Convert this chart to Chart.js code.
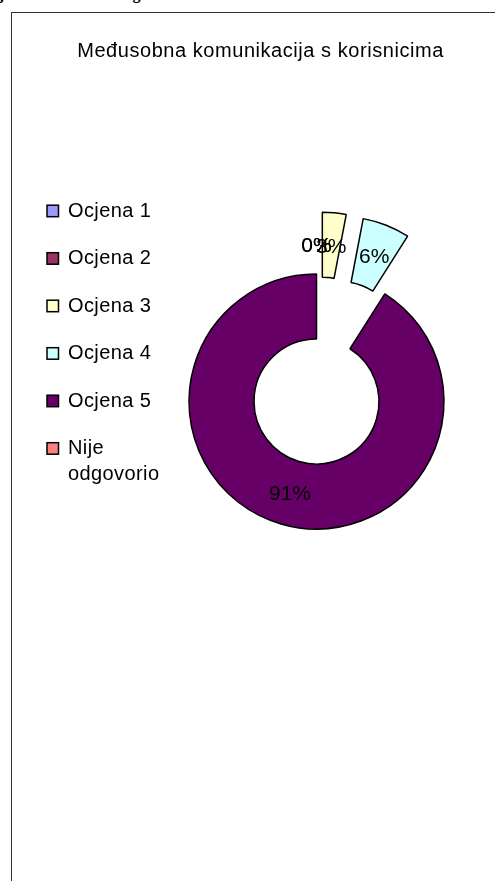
<!DOCTYPE html>
<html>
<head>
<meta charset="utf-8">
<script src="https://cdn.jsdelivr.net/npm/chart.js@4"></script>
<style>
  html, body { margin: 0; padding: 0; background: #ffffff; width: 495px; height: 881px; overflow: hidden; }
  #cut { position: absolute; left: -1px; top: -14.5px; font: bold 16px "Liberation Serif", "Times New Roman", serif; line-height: 16px; letter-spacing: 1.1px; color: #000; white-space: nowrap; }
  #frame { position: absolute; left: 11px; top: 12px; width: 520px; height: 900px; border-left: 1.5px solid #333; border-top: 1.5px solid #333; box-sizing: border-box; }
  #c { position: absolute; left: 0; top: 0; }
</style>
</head>
<body>
<div id="cut">ja korisnika usluga</div>
<div id="frame"></div>
<canvas id="c" width="495" height="881"></canvas>
<script>
// ---- data ----
const chartTitle = "Međusobna komunikacija s korisnicima";
const categories = ["Ocjena 1", "Ocjena 2", "Ocjena 3", "Ocjena 4", "Ocjena 5", "Nije odgovorio"];
const values = [0, 0, 3, 6, 91, 0];
const sliceColors = ["#9999FF", "#993366", "#FFFFCC", "#CCFFFF", "#660066", "#FF8080"];
const exploded = [true, true, true, true, false, false];
const showLabel = [true, true, true, true, true, false];

const FONT = '"Liberation Sans", Arial, sans-serif';
const EXPLODE_DIST = 62;

const explodePlugin = {
  id: 'explodeSlices',
  beforeDatasetsDraw(chart) {
    const meta = chart.getDatasetMeta(0);
    const a = chart.chartArea;
    const cx = (a.left + a.right) / 2, cy = (a.top + a.bottom) / 2;
    meta.data.forEach((el, i) => {
      const d = exploded[i] ? EXPLODE_DIST : 0;
      const mid = (el.startAngle + el.endAngle) / 2;
      el.x = cx + Math.cos(mid) * d;
      el.y = cy + Math.sin(mid) * d;
    });
  }
};

const labelPlugin = {
  id: 'sliceLabels',
  afterDatasetsDraw(chart) {
    const ctx = chart.ctx;
    const meta = chart.getDatasetMeta(0);
    const total = values.reduce((s, v) => s + v, 0);
    ctx.save();
    ctx.font = '21px ' + FONT;
    ctx.fillStyle = '#000';
    ctx.textAlign = 'center';
    ctx.textBaseline = 'alphabetic';
    meta.data.forEach((el, i) => {
      if (!showLabel[i]) return;
      const mid = (el.startAngle + el.endAngle) / 2;
      const r = (el.innerRadius + el.outerRadius) / 2;
      const x = el.x + Math.cos(mid) * r;
      const y = el.y + Math.sin(mid) * r;
      const pct = Math.round(values[i] / total * 100) + '%';
      ctx.fillText(pct, x, y + 21 * 0.36);
    });
    ctx.restore();
  }
};

const decorPlugin = {
  id: 'titleLegend',
  afterDraw(chart) {
    const ctx = chart.ctx;
    ctx.save();
    // title
    ctx.font = '20px ' + FONT;
    ctx.letterSpacing = '0.55px';
    ctx.fillStyle = '#000';
    ctx.textAlign = 'center';
    ctx.textBaseline = 'alphabetic';
    ctx.fillText(chartTitle, 260.5, 56.7);
    // legend
    ctx.font = '20px ' + FONT;
    ctx.letterSpacing = '0.4px';
    ctx.textAlign = 'left';
    const ds = chart.data.datasets[0];
    chart.data.labels.forEach((lab, i) => {
      const base = 216.7 + 47.5 * i;
      ctx.fillStyle = ds.backgroundColor[i];
      ctx.fillRect(47, base - 11.5, 11.5, 11.5);
      ctx.strokeStyle = '#000';
      ctx.lineWidth = 1.5;
      ctx.strokeRect(47, base - 11.5, 11.5, 11.5);
      ctx.fillStyle = '#000';
      // simple word wrap
      const words = lab.split(' ');
      const lines = [];
      let cur = '';
      words.forEach(w => {
        const t = cur ? cur + ' ' + w : w;
        if (cur && ctx.measureText(t).width > 110) { lines.push(cur); cur = w; } else { cur = t; }
      });
      lines.push(cur);
      lines.forEach((ln, k) => ctx.fillText(ln, 68, base + 26 * k));
    });
    ctx.restore();
  }
};

new Chart(document.getElementById('c'), {
  type: 'doughnut',
  data: {
    labels: categories,
    datasets: [{
      data: values,
      backgroundColor: sliceColors,
      borderColor: '#000',
      borderWidth: 1.5,
      borderAlign: 'center'
    }]
  },
  options: {
    responsive: false,
    animation: false,
    devicePixelRatio: 1,
    radius: 127.5,
    cutout: '49%',
    rotation: 0,
    layout: { padding: { left: 238, right: 100, top: 20, bottom: 98 } },
    plugins: {
      legend: { display: false },
      tooltip: { enabled: false },
      title: { display: false }
    },
    events: []
  },
  plugins: [explodePlugin, labelPlugin, decorPlugin]
});
</script>
</body>
</html>
